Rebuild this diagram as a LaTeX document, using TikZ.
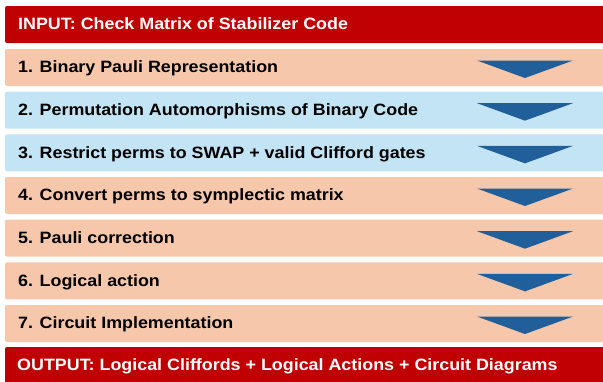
\documentclass[tikz,border=0pt]{standalone}
\usepackage{fontspec}
\setmainfont[FakeStretch=1.09]{Liberation Sans}
\definecolor{hdr}{HTML}{C00000}
\definecolor{peach}{HTML}{F6C7AB}
\definecolor{sky}{HTML}{C3E4F4}
\definecolor{arr}{HTML}{215F9B}
\begin{document}
\begin{tikzpicture}[x=1pt,y=-1pt,
  band/.style={rounded corners=2pt},
  lbl/.style={anchor=base west,inner sep=0pt,font=\fontsize{16.4}{16.4}\selectfont\bfseries},
  chev/.style={fill=arr}]
\useasboundingbox (0,0) rectangle (603,381);
% input
\fill[hdr,band] (5,6) rectangle (605,43);
\node[lbl,text=white] (in) at (18,29.7) {INPUT: Check Matrix of Stabilizer Code};
% steps
\foreach \i/\c/\t in {1/peach/{1. Binary Pauli Representation},
  2/sky/{2. Permutation Automorphisms of Binary Code},
  3/sky/{3. Restrict perms to SWAP + valid Clifford gates},
  4/peach/{4. Convert perms to symplectic matrix},
  5/peach/{5. Pauli correction},
  6/peach/{6. Logical action},
  7/peach/{7. Circuit Implementation}}{
  \pgfmathsetmacro{\yt}{49+(\i-1)*42.67}
  \fill[\c,band] (5,\yt) rectangle (605,\yt+37);
  \node[lbl] (s\i) at (18,\yt+23.7) {\t};
  \fill[chev] (477,\yt+11.5) -- (573,\yt+11.5) -- (525,\yt+29) -- cycle;
}
% output
\fill[hdr,band] (5,347) rectangle (605,384);
\node[lbl,text=white] (out) at (17,370.7) {OUTPUT: Logical Cliffords + Logical Actions + Circuit Diagrams};
\end{tikzpicture}
\end{document}
